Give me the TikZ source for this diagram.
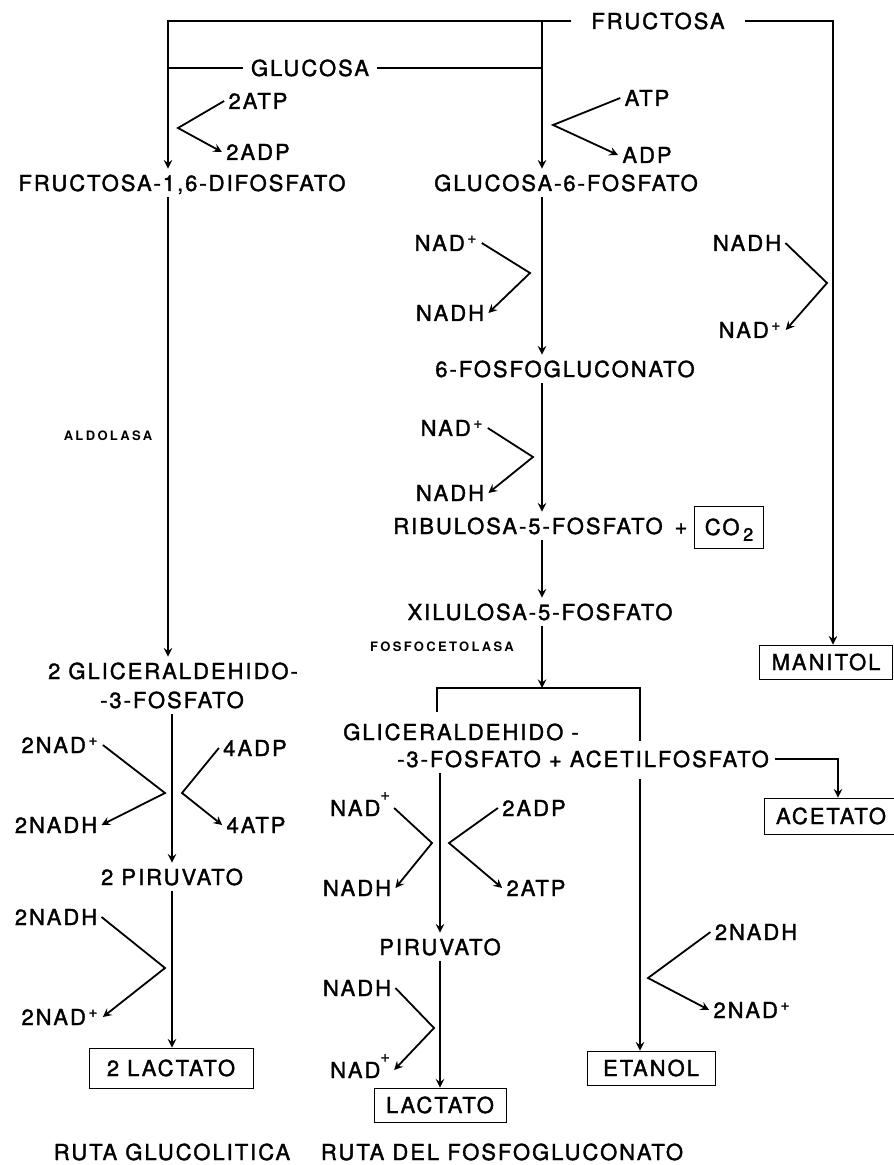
\documentclass[tikz,border=0pt]{standalone}
\usepackage{fontspec}
\setmainfont{TeX Gyre Heros}[LetterSpace=9, FakeBold=1.6]
\newfontfamily\enzfont{TeX Gyre Heros}[LetterSpace=18]
\usetikzlibrary{arrows}
\tikzstyle{arrow} = [line width=0.9pt,->,>=stealth]
\tikzstyle{line} = [line width=0.9pt]

\begin{document}
\begin{tikzpicture}
        [
            x=0.5pt, y=-0.5pt,
            met/.style={inner sep=3pt, text height=8pt, text depth=0pt, font=\fontsize{11}{13.5}\selectfont},
            cof/.style={inner sep=2pt, text height=8pt, text depth=0pt, font=\fontsize{11}{13.5}\selectfont},
            enz/.style={inner sep=0pt, font=\enzfont\bfseries\fontsize{6.5}{8}\selectfont},
            endbox/.style={met, draw, thin, inner xsep=6pt, minimum height=17pt},
        ]
    \useasboundingbox (0,0) rectangle (893,1165);

    % x positions of the main lines
    \coordinate (xL) at (168,0);
    \coordinate (xL2) at (172,0);
    \coordinate (xC) at (542,0);
    \coordinate (xM) at (440,0);
    \coordinate (xE) at (640,0);
    \coordinate (xA) at (838,0);
    \coordinate (xR) at (833,0);

    % sugars
    \node[met, inner xsep=10pt] (fructosa) at (658,21) {FRUCTOSA};
    \node[met, inner xsep=4pt] (glucosa) at (310,68) {GLUCOSA};
    \node[met] (fdp) at (182,183) {FRUCTOSA-1,6-DIFOSFATO};
    \node[met] (g6p) at (566,183) {GLUCOSA-6-FOSFATO};
    \node[met] (pg6) at (565,369) {6-FOSFOGLUCONATO};
    \node[met] (ru5p) at (528,526) {RIBULOSA-5-FOSFATO};
    \node[met, inner sep=0pt] (plus) at (681,526) {+};
    \node[endbox, minimum height=21pt, inner xsep=5pt] (co2) at (729,527) {CO\,\raisebox{-0.5ex}{\fontsize{9}{9}\selectfont 2}};
    \node[met] (xu5p) at (540,612) {XILULOSA-5-FOSFATO};
    \node[endbox] (manitol) at (826,662) {MANITOL};

    \node[met] (gapL1) at (173,671) {2 GLICERALDEHIDO-};
    \node[met] (gapL2) at (172,700) {-3-FOSFATO};
    \node[met] (gapM1) at (461,732) {GLICERALDEHIDO -};
    \node[met] (gapM2) at (583,759) {-3-FOSFATO + ACETILFOSFATO};
    \node[endbox, minimum height=18pt] (acetato) at (831,816) {ACETATO};
    \node[met] (pir2) at (172,877) {2 PIRUVATO};
    \node[met] (pir) at (440,947) {PIRUVATO};
    \node[endbox, minimum height=20pt, inner xsep=9pt] (lac2) at (171,1068) {2 LACTATO};
    \node[endbox] (lac) at (440,1105) {LACTATO};
    \node[endbox, minimum height=17pt, inner xsep=8pt] (etanol) at (651,1068) {ETANOL};

    % enzymes and titles
    \node[enz] (aldolasa) at (108,436) {ALDOLASA};
    \node[enz] (fosfocetolasa) at (442,647) {FOSFOCETOLASA};
    \node[met] (rutaG) at (172,1152) {RUTA GLUCOLITICA};
    \node[met] (rutaF) at (502,1152) {RUTA DEL FOSFOGLUCONATO};

    % cofactors
    \node[cof] (atp2) at (258,101) {2ATP};
    \node[cof] (adp2) at (258,152) {2ADP};
    \node[cof] (atp) at (647,98) {ATP};
    \node[cof] (adp) at (647,155) {ADP};
    \node[cof] (nadA) at (446,243) {NAD\textsuperscript{\,+}};
    \node[cof] (nadhA) at (450,313) {NADH};
    \node[cof] (nadhM) at (747,243) {NADH};
    \node[cof] (nadM) at (750,330) {NAD\textsuperscript{\,+}};
    \node[cof] (nadB) at (452,428) {NAD\textsuperscript{\,+}};
    \node[cof] (nadhB) at (450,493) {NADH};
    \node[cof] (nad2a) at (60,745) {2NAD\textsuperscript{\,+}};
    \node[cof] (nadh2a) at (56,825) {2NADH};
    \node[cof] (adp4) at (255,748) {4ADP};
    \node[cof] (atp4) at (256,825) {4ATP};
    \node[cof] (nadh2b) at (56,917) {2NADH};
    \node[cof] (nad2b) at (60,1017) {2NAD\textsuperscript{\,+}};
    \node[cof] (nadC) at (360,808) {NAD\raisebox{1.4ex}{\footnotesize+}};
    \node[cof] (nadhC) at (357,888) {NADH};
    \node[cof] (adp2b) at (534,808) {2ADP};
    \node[cof] (atp2b) at (536,888) {2ATP};
    \node[cof] (nadhD) at (357,988) {NADH};
    \node[cof] (nadD) at (360,1070) {NAD\raisebox{1.4ex}{\footnotesize+}};
    \node[cof] (nadh2c) at (756,932) {2NADH};
    \node[cof] (nad2c) at (752,1010) {2NAD\textsuperscript{\,+}};

    % main lines
    \draw[arrow] (fructosa.west) -| (fdp.north -| xL);
    \draw[arrow] (fructosa.west -| xC) -- (g6p.north -| xC);
    \draw[line] (glucosa.west) -- (glucosa.west -| xL);
    \draw[line] (glucosa.east) -- (glucosa.east -| xC);
    \draw[arrow] (fructosa.east) -| (manitol.north -| xR);

    \draw[arrow] (g6p.south -| xC) -- (pg6.north -| xC);
    \draw[arrow] (pg6.south -| xC) -- (ru5p.north -| xC);
    \draw[arrow] (ru5p.south -| xC) -- (xu5p.north -| xC);
    \coordinate (brT) at (542,688);
    \coordinate (brL) at (437,712);
    \coordinate (brR) at (640,741);
    \draw[arrow] (xu5p.south -| xC) -- (brT);
    \draw[line] (brL) |- (brT) -| (brR);

    \draw[arrow] (fdp.south -| xL) -- (gapL1.north -| xL);
    \draw[arrow] (gapL2.south -| xL2) -- (pir2.north -| xL2);
    \draw[arrow] (pir2.south -| xL2) -- (lac2.north -| xL2);
    \draw[arrow] (gapM2.south -| xM) -- (pir.north -| xM);
    \draw[arrow] (pir.south -| xM) -- (lac.north -| xM);
    \draw[arrow] ([yshift=-3pt]gapM2.south -| xE) -- (etanol.north -| xE);
    \draw[arrow] (gapM2.east) -| (acetato.north -| xA);

    % cofactor branches
    \coordinate (vATP2) at (178,128);
    \coordinate (vATP) at (553,125);
    \coordinate (vNADg6p) at (530,273);
    \coordinate (vNADman) at (827,283);
    \coordinate (vNAD6pg) at (533,457);
    \coordinate (vNADgap) at (165,793);
    \coordinate (vADPgap) at (182,793);
    \coordinate (vNADpir) at (165,968);
    \coordinate (vNADgapM) at (432,843);
    \coordinate (vADPgapM) at (449,843);
    \coordinate (vNADlac) at (434,1028);
    \coordinate (vNADet) at (648,978);

    \draw[arrow] (atp2.west) -- (vATP2) -- (adp2.west);
    \draw[arrow] (atp.west) -- (vATP) -- (adp.west);
    \draw[arrow] (nadA.east) -- (vNADg6p) -- (nadhA.east);
    \draw[arrow] (nadhM.east) -- (vNADman) -- (nadM.east);
    \draw[arrow] (nadB.east) -- (vNAD6pg) -- (nadhB.east);
    \draw[arrow] (nad2a.east) -- (vNADgap) -- (nadh2a.east);
    \draw[arrow] (adp4.west) -- (vADPgap) -- (atp4.west);
    \draw[arrow] (nadh2b.east) -- (vNADpir) -- (nad2b.east);
    \draw[arrow] (nadC.east) -- (vNADgapM) -- (nadhC.east);
    \draw[arrow] (adp2b.west) -- (vADPgapM) -- (atp2b.west);
    \draw[arrow] (nadhD.east) -- (vNADlac) -- (nadD.east);
    \draw[arrow] (nadh2c.west) -- (vNADet) -- (nad2c.west);
    \end{tikzpicture}
\end{document}
